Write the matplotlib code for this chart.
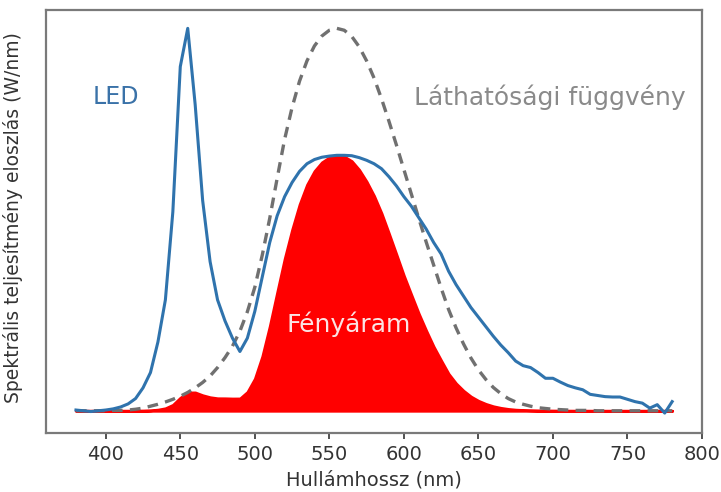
import numpy as np
import matplotlib
matplotlib.use("Agg")
import matplotlib.pyplot as plt

wavelength = list(range(380, 785, 5))

led = [0.002, 0.0, -0.002, 0.0, 0.002, 0.005, 0.01, 0.018, 0.032, 0.06,
       0.10, 0.18, 0.29, 0.52, 0.90, 1.0, 0.80, 0.55, 0.39, 0.29,
       0.235, 0.19, 0.155, 0.19, 0.26, 0.35, 0.44, 0.51, 0.56, 0.597,
       0.626, 0.646, 0.657, 0.663, 0.666, 0.668, 0.668, 0.667, 0.662, 0.655,
       0.646, 0.633, 0.612, 0.588, 0.56, 0.535, 0.505, 0.475, 0.44, 0.41,
       0.365, 0.33, 0.30, 0.27, 0.245, 0.22, 0.195, 0.172, 0.152, 0.13,
       0.118, 0.113, 0.10, 0.085, 0.085, 0.075, 0.066, 0.06, 0.055, 0.043,
       0.04, 0.037, 0.036, 0.036, 0.03, 0.024, 0.02, 0.007, 0.016, -0.006,
       0.024]

luminosity = [0.0, 0.0, 0.0, 0.0, 0.0, 0.001, 0.001, 0.002, 0.004, 0.007,
              0.012, 0.017, 0.023, 0.030, 0.038, 0.048, 0.060, 0.074, 0.091, 0.113,
              0.139, 0.169, 0.208, 0.259, 0.323, 0.407, 0.503, 0.608, 0.710, 0.793,
              0.862, 0.915, 0.954, 0.980, 0.995, 1.0, 0.995, 0.979, 0.952, 0.915,
              0.870, 0.816, 0.757, 0.695, 0.631, 0.567, 0.503, 0.441, 0.381, 0.321,
              0.265, 0.217, 0.175, 0.138, 0.107, 0.082, 0.061, 0.045, 0.032, 0.023,
              0.017, 0.012, 0.008, 0.006, 0.004, 0.003, 0.002, 0.001, 0.001, 0.001,
              0.0, 0.0, 0.0, 0.0, 0.0, 0.0, 0.0, 0.0, 0.0, 0.0,
              0.0]

xticks = [400, 450, 500, 550, 600, 650, 700, 750, 800]

x = np.array(wavelength)
s = np.array(led)
v = np.array(luminosity)
flux = s * v

fig = plt.figure(figsize=(7.21, 4.92), dpi=100)
ax = fig.add_axes([0.064, 0.12, 0.9096, 0.8597])

ax.fill_between(x, 0, flux, facecolor="#ff0000", edgecolor="#ff0000", linewidth=2, zorder=1)
ax.plot(x, v, color="#707070", linestyle=(0, (3.2, 2.2)), linewidth=2.4, zorder=2)
ax.plot(x, s, color="#2f73ad", linewidth=2.2, zorder=3)

ax.text(407, 0.82, "LED", color="#3a72a8", fontsize=17, ha="center", va="center")
ax.text(698, 0.82, "Láthatósági függvény", color="#8a8a8a", fontsize=18, ha="center", va="center")
ax.text(563, 0.225, "Fényáram", color="#fbe4e4", fontsize=18, ha="center", va="center")

ax.set_xticks(xticks)
ax.set_yticks([])
ax.tick_params(axis="x", labelsize=14, colors="#333333", length=4, width=1.2, pad=5)
for sp in ax.spines.values():
    sp.set_color("#7a7a7a")
    sp.set_linewidth(1.6)

ax.set_xlabel("Hullámhossz (nm)", fontsize=14, color="#333333", labelpad=4)
ax.set_ylabel("Spektrális teljesítmény eloszlás (W/nm)", fontsize=13.5, color="#333333")
ax.yaxis.set_label_coords(-0.036, 0.51)
ax.set_xlim(360, 800)
ax.set_ylim(-0.058, 1.048)

fig.savefig("out.png", dpi=100)
